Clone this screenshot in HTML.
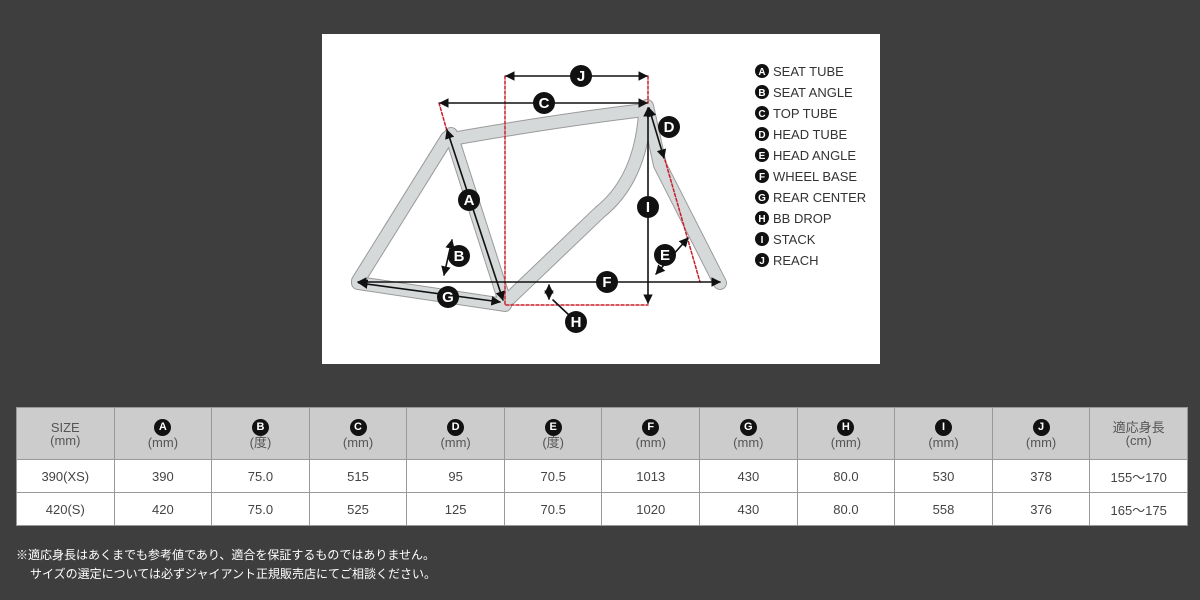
<!DOCTYPE html>
<html><head><meta charset="utf-8"><style>
body{margin:0;width:1200px;height:600px;background:#3e3e3e;position:relative;overflow:hidden;font-family:"Liberation Sans","Noto Sans CJK JP",sans-serif}
#panel{position:absolute;left:322px;top:34px;width:558px;height:330px;background:#fff}
table{position:absolute;left:16px;top:407px;border-collapse:collapse;width:1172px;table-layout:fixed}
td{border:1px solid #999;text-align:center;color:#444;font-size:13px;background:#fff;padding:0}
tr.h td{background:#ccc;height:51px;line-height:13px;color:#555}
tr.r td{height:32px}
.c{display:inline-block;width:17px;height:17px;border-radius:50%;background:#111;color:#fff;font-size:11px;line-height:17px;font-weight:bold}
.note{position:absolute;left:16px;color:#fff;font-size:12px}
</style></head><body>
<div id="panel"></div>
<svg width="1200" height="600" style="position:absolute;left:0;top:0">
<defs><marker id="ar" viewBox="0 0 10 10" refX="9" refY="5" markerWidth="6" markerHeight="6" orient="auto-start-reverse"><path d="M0,0L10,5L0,10z" fill="#111"/></marker></defs>
<g fill="none" stroke-linejoin="round" stroke-linecap="round">
<g stroke="#9a9a9a" stroke-width="14">
<path d="M358,281 L447,138"/><path d="M358,283 L505,305"/><path d="M451,134 L505,302"/>
<path d="M452,139 Q560,120 645,110"/><path d="M645,114 Q640,180 600,212 L510,298"/>
<path d="M647,106 L660,165 L720,283"/>
</g>
<g stroke="#d6d9d9" stroke-width="12">
<path d="M358,281 L447,138"/><path d="M358,283 L505,305"/><path d="M451,134 L505,302"/>
<path d="M452,139 Q560,120 645,110"/><path d="M645,114 Q640,180 600,212 L510,298"/>
<path d="M647,106 L660,165 L720,283"/>
</g>
<g stroke="#c8202a" stroke-width="1.5" stroke-dasharray="3,2">
<path d="M505,76 V305 H648"/><path d="M648,76 V103"/><path d="M439,103 L447,131"/><path d="M665,160 L700,282"/>
</g>
<g stroke="#111" stroke-width="1.6" marker-start="url(#ar)" marker-end="url(#ar)">
<path d="M506,76 H647"/><path d="M440,103 H647"/><path d="M649,108 L664,158"/><path d="M648,108 V303"/>
<path d="M358,282 H720"/><path d="M359,283 L500,302"/><path d="M447,130 L503,300"/>
<path d="M549,285 V299"/><path d="M444,275 L452,240"/><path d="M656,274 L688,238"/>
</g>
<path d="M553,300 L570,316" stroke="#111" stroke-width="1.6"/>
</g>
<g font-family="Liberation Sans" font-size="15" font-weight="bold" fill="#fff" text-anchor="middle">
<g fill="#111"><circle cx="581" cy="76" r="11"/><circle cx="544" cy="103" r="11"/><circle cx="669" cy="127" r="11"/><circle cx="648" cy="207" r="11"/><circle cx="607" cy="282" r="11"/><circle cx="665" cy="255" r="11"/><circle cx="448" cy="297" r="11"/><circle cx="576" cy="322" r="11"/><circle cx="469" cy="200" r="11"/><circle cx="459" cy="256" r="11"/></g>
<text x="581" y="81">J</text><text x="544" y="108">C</text><text x="669" y="132">D</text><text x="648" y="212">I</text><text x="607" y="287">F</text><text x="665" y="260">E</text><text x="448" y="302">G</text><text x="576" y="327">H</text><text x="469" y="205">A</text><text x="459" y="261">B</text>
</g>
<g font-family="Liberation Sans" font-size="13">
<g fill="#111"><circle cx="762" cy="71" r="7"/><circle cx="762" cy="92" r="7"/><circle cx="762" cy="113" r="7"/><circle cx="762" cy="134" r="7"/><circle cx="762" cy="155" r="7"/><circle cx="762" cy="176" r="7"/><circle cx="762" cy="197" r="7"/><circle cx="762" cy="218" r="7"/><circle cx="762" cy="239" r="7"/><circle cx="762" cy="260" r="7"/></g>
<g fill="#fff" font-size="10" font-weight="bold" text-anchor="middle"><text x="762" y="75">A</text><text x="762" y="96">B</text><text x="762" y="117">C</text><text x="762" y="138">D</text><text x="762" y="159">E</text><text x="762" y="180">F</text><text x="762" y="201">G</text><text x="762" y="222">H</text><text x="762" y="243">I</text><text x="762" y="264">J</text></g>
<g fill="#333"><text x="773" y="76">SEAT TUBE</text><text x="773" y="97">SEAT ANGLE</text><text x="773" y="118">TOP TUBE</text><text x="773" y="139">HEAD TUBE</text><text x="773" y="160">HEAD ANGLE</text><text x="773" y="181">WHEEL BASE</text><text x="773" y="202">REAR CENTER</text><text x="773" y="223">BB DROP</text><text x="773" y="244">STACK</text><text x="773" y="265">REACH</text></g>
</g>
</svg>
<table>
<tr class="h"><td>SIZE<br>(mm)</td><td><span class="c">A</span><br>(mm)</td><td><span class="c">B</span><br>(度)</td><td><span class="c">C</span><br>(mm)</td><td><span class="c">D</span><br>(mm)</td><td><span class="c">E</span><br>(度)</td><td><span class="c">F</span><br>(mm)</td><td><span class="c">G</span><br>(mm)</td><td><span class="c">H</span><br>(mm)</td><td><span class="c">I</span><br>(mm)</td><td><span class="c">J</span><br>(mm)</td><td>適応身長<br>(cm)</td></tr>
<tr class="r"><td>390(XS)</td><td>390</td><td>75.0</td><td>515</td><td>95</td><td>70.5</td><td>1013</td><td>430</td><td>80.0</td><td>530</td><td>378</td><td>155～170</td></tr>
<tr class="r"><td>420(S)</td><td>420</td><td>75.0</td><td>525</td><td>125</td><td>70.5</td><td>1020</td><td>430</td><td>80.0</td><td>558</td><td>376</td><td>165～175</td></tr>
</table>
<div class="note" style="top:546px">※適応身長はあくまでも参考値であり、適合を保証するものではありません。</div>
<div class="note" style="top:565px;left:30px">サイズの選定については必ずジャイアント正規販売店にてご相談ください。</div>
</body></html>
